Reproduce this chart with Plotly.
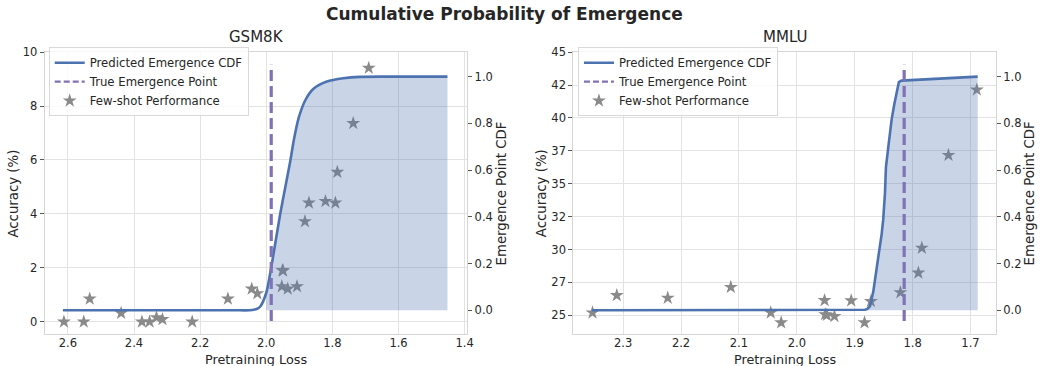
import numpy as np
import plotly.graph_objects as go

W, H = 1041, 366

# ---------------- data ----------------
# GSM8K few-shot performance
gsm_loss = [2.612, 2.552, 2.534, 2.439, 2.376, 2.353, 2.332, 2.314, 2.224, 2.116,
            2.044, 2.027, 1.951, 1.949, 1.953, 1.935, 1.907, 1.883, 1.871, 1.821,
            1.791, 1.785, 1.737, 1.690]
gsm_acc = [0.0, 0.0, 0.85, 0.32, 0.0, 0.0, 0.16, 0.09, 0.0, 0.85,
           1.22, 1.05, 1.91, 1.89, 1.31, 1.22, 1.31, 3.72, 4.41, 4.47,
           4.41, 5.55, 7.36, 9.41]
# GSM8K predicted emergence CDF
gsm_cdf_loss = [2.615, 2.30, 2.10, 2.05, 2.035, 2.025, 2.0175, 2.0, 1.9874, 1.9723,
                1.9573, 1.9423, 1.9272, 1.9172, 1.9022, 1.882, 1.8571, 1.8168,
                1.7669, 1.7167, 1.6265, 1.452]
gsm_cdf = [0.0, 0.0, 0.0, 0.0, 0.003, 0.008, 0.017, 0.075, 0.164, 0.29,
           0.416, 0.528, 0.64, 0.724, 0.822, 0.899, 0.948, 0.979,
           0.993, 0.999, 1.0, 1.0]
gsm_fill_start = 2.0
gsm_true_emergence = 1.985

# MMLU few-shot performance
mmlu_loss = [2.353, 2.311, 2.223, 2.114, 2.045, 2.027, 1.952, 1.951, 1.948, 1.935,
             1.906, 1.883, 1.872, 1.821, 1.790, 1.784, 1.738, 1.689]
mmlu_acc = [25.2, 26.52, 26.32, 27.14, 25.2, 24.45, 26.14, 25.07, 25.02, 24.93,
            26.12, 24.45, 26.07, 26.74, 28.23, 30.12, 37.17, 42.14]
# MMLU predicted emergence CDF
mmlu_cdf_loss = [2.354, 2.0, 1.882, 1.878, 1.8735, 1.8678, 1.862, 1.858, 1.8534,
                 1.8507, 1.8477, 1.846, 1.842, 1.8362, 1.8318, 1.8277, 1.8237,
                 1.8191, 1.6875]
mmlu_cdf = [0.0, 0.0, 0.002, 0.006, 0.018, 0.081, 0.193, 0.249, 0.326,
            0.389, 0.501, 0.613, 0.697, 0.816, 0.879, 0.935, 0.977,
            0.983, 1.0]
mmlu_fill_start = 1.878
mmlu_true_emergence = 1.8145

gsm_xticks = [2.6, 2.4, 2.2, 2.0, 1.8, 1.6, 1.4]
gsm_yticks = [0, 2, 4, 6, 8, 10]
mmlu_xticks = [2.3, 2.2, 2.1, 2.0, 1.9, 1.8, 1.7]
mmlu_yticks = [25, 27.5, 30, 32.5, 35, 37.5, 40, 42.5, 45]
mmlu_yticktext = ["25", "27", "30", "32", "35", "37", "40", "42", "45"]
cdf_ticks = [0.0, 0.2, 0.4, 0.6, 0.8, 1.0]

# ---------------- style ----------------
BLUE = "#4C72B0"
FILL = "rgba(76,114,176,0.30)"
PURPLE = "#8172B3"
STAR = "#8a8a8a"
GRID = "#e3e3e3"
SPINE = "#d6d6d6"
TXT = "#262626"
FONT = "DejaVu Sans"


def px(x):
    return x / W


def py(y):
    return 1 - y / H


fig = go.Figure()

panels = [
    dict(name="GSM8K", xa="x", ya="y", ya2="y2", legend="legend",
         loss=gsm_loss, acc=gsm_acc, cl=gsm_cdf_loss, c=gsm_cdf,
         fs=gsm_fill_start, te=gsm_true_emergence, shape="spline"),
    dict(name="MMLU", xa="x2", ya="y3", ya2="y4", legend="legend2",
         loss=mmlu_loss, acc=mmlu_acc, cl=mmlu_cdf_loss, c=mmlu_cdf,
         fs=mmlu_fill_start, te=mmlu_true_emergence, shape="linear"),
]

for p in panels:
    fig.add_trace(go.Scatter(
        x=p["loss"], y=p["acc"], xaxis=p["xa"], yaxis=p["ya"], mode="markers",
        marker=dict(symbol="star", size=10.5, color=STAR, line=dict(width=0)),
        name="Few-shot Performance", legend=p["legend"], legendrank=3))
    cl = np.array(p["cl"])
    c = np.array(p["c"])
    m = cl <= p["fs"] + 1e-9
    fig.add_trace(go.Scatter(
        x=cl[m], y=c[m], xaxis=p["xa"], yaxis=p["ya2"], mode="lines",
        line=dict(width=0, shape=p["shape"], smoothing=0.8), fill="tozeroy",
        fillcolor=FILL, showlegend=False, hoverinfo="skip"))
    fig.add_trace(go.Scatter(
        x=cl, y=c, xaxis=p["xa"], yaxis=p["ya2"], mode="lines",
        line=dict(color=BLUE, width=2.6, shape=p["shape"], smoothing=0.8),
        name="Predicted Emergence CDF", legend=p["legend"], legendrank=1))
    fig.add_trace(go.Scatter(
        x=[None], y=[None], xaxis=p["xa"], yaxis=p["ya2"], mode="lines",
        line=dict(color=PURPLE, width=2.2, dash="6px,3px"),
        name="True Emergence Point", legend=p["legend"], legendrank=2))
    fig.add_shape(type="line", xref=p["xa"], yref=p["ya"] + " domain",
                  x0=p["te"], x1=p["te"], y0=0.045, y1=0.955,
                  line=dict(color=PURPLE, width=3.2, dash="11px,5px"),
                  layer="above")

ydom = [py(333), py(46)]
common_x = dict(showgrid=True, gridcolor=GRID, gridwidth=1, zeroline=False,
                showline=True, linecolor=SPINE, linewidth=1.2, mirror=True,
                ticks="", tickfont=dict(size=11.5, color=TXT, family=FONT),
                ticklabelstandoff=-2)
common_yl = dict(showgrid=True, gridcolor=GRID, gridwidth=1, zeroline=False,
                 showline=True, linecolor=SPINE, linewidth=1.2, mirror=True,
                 ticks="outside", ticklen=4, tickcolor="#555", tickwidth=1,
                 tickfont=dict(size=11.5, color=TXT, family=FONT), domain=ydom)
common_yr = dict(showgrid=False, zeroline=False, showline=False, side="right",
                 ticks="outside", ticklen=4, tickcolor="#555", tickwidth=1,
                 tickvals=cdf_ticks, tickformat=".1f",
                 tickfont=dict(size=11.5, color=TXT, family=FONT),
                 range=[-0.10, 1.105])

leg = dict(xanchor="left", yanchor="top",
           bgcolor="rgba(255,255,255,0.8)", bordercolor="#d9d9d9",
           borderwidth=1, font=dict(size=11.7, color=TXT, family=FONT),
           itemwidth=30, tracegroupgap=0)

fig.update_layout(
    width=W, height=H, margin=dict(l=0, r=0, t=0, b=0),
    paper_bgcolor="white", plot_bgcolor="white",
    font=dict(family=FONT, color=TXT),
    xaxis=dict(domain=[px(45), px(470)], range=[2.670, 1.392],
               tickvals=gsm_xticks, tickformat=".1f", anchor="y", **common_x),
    yaxis=dict(range=[-0.44, 10], tickvals=gsm_yticks, anchor="x", **common_yl),
    yaxis2=dict(overlaying="y", anchor="x", **common_yr),
    xaxis2=dict(domain=[px(576.7), px(1001.7)], range=[2.386, 1.656],
                tickvals=mmlu_xticks, tickformat=".1f", anchor="y3", **common_x),
    yaxis3=dict(range=[23.61, 45], tickvals=mmlu_yticks, ticktext=mmlu_yticktext,
                anchor="x2", **common_yl),
    yaxis4=dict(overlaying="y3", anchor="x2", **common_yr),
    legend=dict(x=px(49), y=py(41), **leg),
    legend2=dict(x=px(581.3), y=py(41), **leg),
    showlegend=True,
)

ann = []
ann.append(dict(text="<b>Cumulative Probability of Emergence</b>", x=px(507.5), y=py(7),
                font=dict(size=17, color=TXT, family=FONT)))
for name, cx, lx, rx in [("GSM8K", 257.5, 13.3, 504), ("MMLU", 789.2, 545, 1035)]:
    ann.append(dict(text=name, x=px(cx), y=py(31), font=dict(size=15, color=TXT, family=FONT)))
    ann.append(dict(text="Pretraining Loss", x=px(cx), y=py(359),
                    font=dict(size=12.8, color=TXT, family=FONT)))
    ann.append(dict(text="Accuracy (%)", x=px(lx), y=py(190), textangle=-90,
                    font=dict(size=13.3, color=TXT, family=FONT)))
    ann.append(dict(text="Emergence Point CDF", x=px(rx), y=py(190), textangle=-90,
                    font=dict(size=13.3, color=TXT, family=FONT)))
for a in ann:
    a.update(xref="paper", yref="paper", showarrow=False, xanchor="center", yanchor="middle")
fig.update_layout(annotations=ann)

fig.write_html("out.html")
